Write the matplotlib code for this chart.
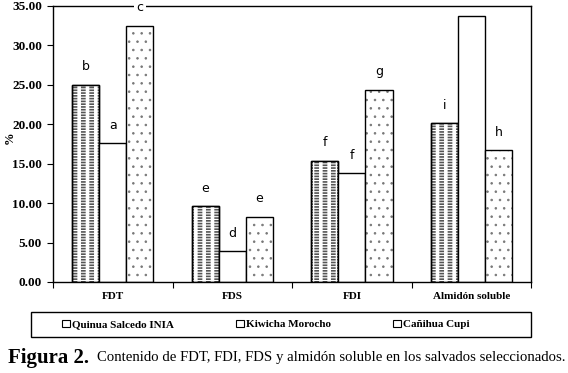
import numpy as np
import matplotlib
matplotlib.use("Agg")
import matplotlib.pyplot as plt
from matplotlib.patches import Patch, Rectangle

# ===============================
# DATA
# ===============================
categories = ["FDT", "FDS", "FDI", "Almidón soluble"]
series_names = ["Quinua Salcedo INIA", "Kiwicha Morocho", "Cañihua Cupi"]

quinua = [25.0, 9.6, 15.4, 20.1]
kiwicha = [17.6, 3.9, 13.8, 33.7]
canihua = [32.5, 8.3, 24.4, 16.7]

quinua_letters = ["b", "e", "f", "i"]
kiwicha_letters = ["a", "d", "f", ""]
canihua_letters = ["c", "e", "g", "h"]

# ===============================
# STYLE
# ===============================
serif = "Liberation Serif"
sans = "DejaVu Sans"


def hatched_bars(ax, pos, vals, w, hatch, color, lw, face="white", edge="black"):
    with plt.rc_context({"hatch.linewidth": lw, "hatch.color": color}):
        bars = ax.bar(pos, vals, width=w, facecolor=face, edgecolor=edge,
                      linewidth=0 if edge == "none" else 1.0, hatch=hatch,
                      zorder=2)
    for b in bars:
        b._hatch_color = matplotlib.colors.to_rgba(color)
        if hasattr(b, "set_hatch_linewidth"):
            b.set_hatch_linewidth(lw)
    return bars


fig = plt.figure(figsize=(5.68, 3.73), dpi=100)
ax = fig.add_axes([0.0933, 0.244, 0.842, 0.740])

x = np.arange(len(categories))
w = 0.227

# Quinua: dense horizontal dashes cut into columns
pq = x - w
hatched_bars(ax, pq, quinua, w, "------", "#555555", 1.2)
hatched_bars(ax, pq, quinua, w * 0.9, "||", "white", 2.6, face="none", edge="none")
ax.bar(pq, quinua, width=w, facecolor="none", edgecolor="black", linewidth=1.0, zorder=2)

# Kiwicha: plain
ax.bar(x, kiwicha, width=w, facecolor="white", edgecolor="black", linewidth=1.0, zorder=2)

# Cañihua: dots
pc = x + w
hatched_bars(ax, pc, canihua, w, ". .", "#777777", 0.6)

for pos, vals, labs in [(pq, quinua, quinua_letters), (x, kiwicha, kiwicha_letters),
                        (pc, canihua, canihua_letters)]:
    for p, v, t in zip(pos, vals, labs):
        if t:
            ax.text(p, v + 2.3, t, ha="center", va="center", fontsize=9,
                    family=sans, zorder=3,
                    bbox=dict(facecolor="white", edgecolor="none", pad=1.5))

ax.set_xlim(-0.5, len(categories) - 0.5)
ax.set_ylim(0, 35)
ax.set_yticks(np.arange(0, 35.1, 5))
ax.set_yticklabels([f"{v:.2f}" for v in np.arange(0, 35.1, 5)],
                   family=serif, fontweight="bold", fontsize=9.5)
ax.set_xticks(np.arange(len(categories) + 1) - 0.5)
ax.set_xticklabels([])
ax.tick_params(axis="x", length=4, direction="out")
ax.tick_params(axis="y", length=4, direction="out", pad=4)
for xi, c in zip(x, categories):
    ax.text(xi, -1.8, c, ha="center", va="center", family=serif,
            fontweight="bold", fontsize=8)

for s in ax.spines.values():
    s.set_linewidth(1.0)
fig.text(0.017, 1 - 138 / 373, "%", family=serif, fontweight="bold", fontsize=9,
         rotation=90, ha="center", va="center")

# ===============================
# LEGEND (box drawn separately)
# ===============================
fig.add_artist(Rectangle((31 / 568, 1 - 337 / 373), 500 / 568, 25 / 373,
                         transform=fig.transFigure, facecolor="none",
                         edgecolor="black", linewidth=1.0))
handles = [Patch(facecolor="white", edgecolor="black", linewidth=0.8)
           for _ in series_names]
leg = fig.legend(handles, series_names, loc="center left",
                 bbox_to_anchor=(62 / 568, 1 - 324.5 / 373),
                 ncol=3, frameon=False,
                 prop={"family": serif, "weight": "bold", "size": 8.0},
                 handlelength=0.7, handleheight=0.7, handletextpad=0.2,
                 columnspacing=5.6, borderpad=0, borderaxespad=0)

# ===============================
# CAPTION
# ===============================
fig.text(8 / 568, 1 - 358 / 373, "Figura 2.", family=serif, fontweight="bold",
         fontsize=15, va="center")
fig.text(97 / 568, 1 - 358 / 373,
         "Contenido de FDT, FDI, FDS y almidón soluble en los salvados seleccionados.",
         family=serif, fontsize=10.6, va="center")

fig.savefig("out.png", dpi=100)
